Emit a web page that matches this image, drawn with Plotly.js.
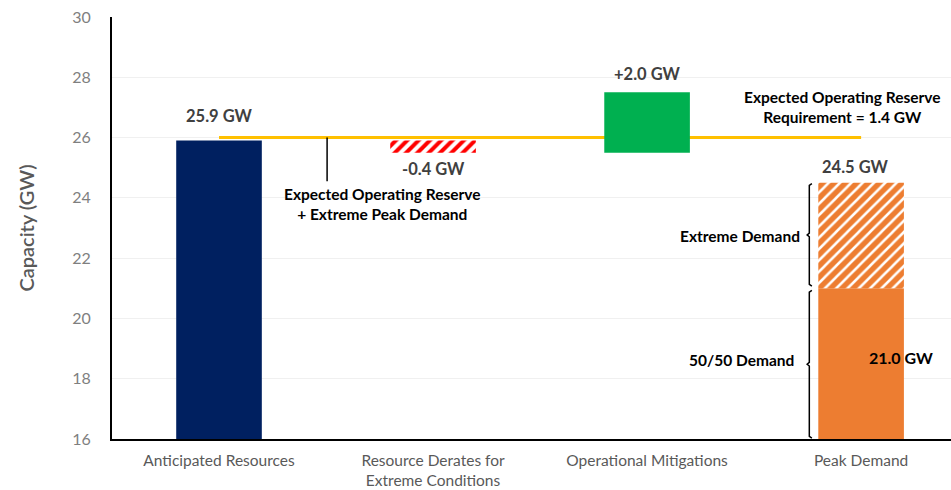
<!DOCTYPE html>
<html>
<head>
<meta charset="utf-8">
<script src="https://cdn.plot.ly/plotly-3.0.1.min.js"></script>
<style>html,body{margin:0;padding:0;background:#fff;}#chart{width:951px;height:490px;}</style>
</head>
<body>
<div id="chart"></div>
<script>
// ---- data ----
const categories = ["Anticipated Resources", "Resource Derates for<br>Extreme Conditions", "Operational Mitigations", "Peak Demand"];
const anticipated = [25.9];
const derate = [-0.4];
const mitigation = [2.0];
const peak5050 = [21.0];
const peakExtreme = [24.5];
const reserveReq = [1.4];
const reserveLineLevel = [26.0];
const yTicks = [16, 18, 20, 22, 24, 26, 28, 30];

const xIdx = categories.map((c, i) => i);
const yMin = 16, yMax = 30;
const barW = 0.4;

const FONT = "Lato, 'Open Sans', sans-serif";
const afterDerate = anticipated[0] + derate[0];

const traces = [
  { type: 'bar', x: [xIdx[0]], y: [anticipated[0] - yMin], base: [yMin], width: barW,
    marker: { color: '#002060' } },
  { type: 'bar', x: [xIdx[1]], y: [derate[0]], base: [anticipated[0]], width: barW,
    marker: { color: '#FF0000', pattern: { shape: '/', fgcolor: '#FF0000', bgcolor: '#FFFFFF', size: 8, solidity: 0.5, fillmode: 'replace' } } },
  { type: 'bar', x: [xIdx[2]], y: [mitigation[0]], base: [afterDerate], width: barW,
    marker: { color: '#00B050' } },
  { type: 'bar', x: [xIdx[3]], y: [peak5050[0] - yMin], base: [yMin], width: barW,
    marker: { color: '#ED7D31' } },
  { type: 'bar', x: [xIdx[3]], y: [peakExtreme[0] - peak5050[0]], base: [peak5050[0]], width: barW,
    marker: { color: '#ED7D31', pattern: { shape: '/', fgcolor: '#FFFFFF', bgcolor: '#ED7D31', size: 8, solidity: 0.32, fillmode: 'replace' } } }
];

// brackets beside the Peak Demand bar
const bx = xIdx[3] - barW / 2 - 0.042;
function bracket(top, bot) {
  const mid = (top + bot) / 2;
  return { type: 'scatter', mode: 'lines', hoverinfo: 'skip',
    x: [bx + 0.012, bx, bx, bx - 0.01, bx, bx, bx + 0.012],
    y: [top, top - 0.06, mid + 0.06, mid, mid - 0.06, bot + 0.06, bot],
    line: { color: '#000000', width: 1.5 } };
}
traces.push(bracket(peakExtreme[0] - 0.03, peak5050[0] + 0.07));
traces.push(bracket(peak5050[0] - 0.07, yMin + 0.03));

// vertical pointer line
const pointerX = 0.505;
traces.push({ type: 'scatter', mode: 'lines', hoverinfo: 'skip',
  x: [pointerX, pointerX], y: [reserveLineLevel[0], 24.55],
  line: { color: '#000000', width: 1.5 } });

const valFont = { family: FONT, size: 16.5, color: '#404040', weight: 'bold' };
const blackFont = { family: FONT, size: 15.5, color: '#000000', weight: 'bold' };
function fmt(v, sign) { return (sign && v > 0 ? '+' : '') + v.toFixed(1) + ' GW'; }

const annotations = [
  { x: xIdx[0], y: anticipated[0], text: fmt(anticipated[0]), yanchor: 'bottom', yshift: 13, font: valFont },
  { x: xIdx[1], y: afterDerate, text: fmt(derate[0]), yanchor: 'top', yshift: -4, font: valFont },
  { x: xIdx[2], y: afterDerate + mitigation[0], text: fmt(mitigation[0], true), yanchor: 'bottom', yshift: 6, font: valFont },
  { x: xIdx[3], y: peakExtreme[0], text: fmt(peakExtreme[0]), yanchor: 'bottom', yshift: 4, xshift: -6, font: valFont },
  { x: xIdx[3], y: (yMin + peak5050[0]) / 2, text: fmt(peak5050[0]), xshift: 40, yshift: 6, font: { family: FONT, size: 16, color: '#000000', weight: 'bold' } },
  { x: bx, y: (peak5050[0] + peakExtreme[0]) / 2, text: 'Extreme Demand', xanchor: 'right', xshift: -7, font: blackFont },
  { x: bx, y: (yMin + peak5050[0]) / 2, text: '50/50 Demand', xanchor: 'right', xshift: -13, yshift: 4, font: blackFont },
  { x: 0.762, y: 23.79, text: 'Expected Operating Reserve<br>+ Extreme Peak Demand', font: blackFont },
  { x: 2.911, y: 27.0, text: 'Expected Operating Reserve<br>Requirement = ' + reserveReq[0].toFixed(1) + ' GW', font: blackFont }
].map(a => Object.assign({ xref: 'x', yref: 'y', showarrow: false }, a));

const layout = {
  width: 951, height: 490,
  margin: { l: 112, r: 0, t: 17, b: 51, pad: 0 },
  paper_bgcolor: '#FFFFFF', plot_bgcolor: '#FFFFFF',
  showlegend: false,
  barmode: 'overlay',
  font: { family: FONT },
  xaxis: {
    type: 'linear', range: [-0.5, 3.42], fixedrange: true,
    tickmode: 'array', tickvals: xIdx, ticktext: categories,
    showgrid: false, zeroline: false,
    showline: true, linecolor: '#000000', linewidth: 2,
    ticks: '', ticklabelstandoff: 6,
    tickfont: { family: FONT, size: 15.5, color: '#595959' }
  },
  yaxis: {
    range: [yMin, yMax], fixedrange: true,
    tickmode: 'array', tickvals: yTicks,
    showgrid: true, gridcolor: '#F0F0F0', gridwidth: 1,
    zeroline: false,
    showline: true, linecolor: '#000000', linewidth: 2,
    ticks: '', ticklabelstandoff: 16,
    tickfont: { family: FONT, size: 16, color: '#7F7F7F' },
    title: { text: 'Capacity (GW)', standoff: 32, font: { family: FONT, size: 20, color: '#595959', weight: 600 } }
  },
  shapes: [
    { type: 'line', layer: 'between', xref: 'x', yref: 'y',
      x0: xIdx[0], x1: xIdx[3], y0: reserveLineLevel[0], y1: reserveLineLevel[0],
      line: { color: '#FFC000', width: 3 } }
  ],
  annotations: annotations
};

Plotly.newPlot('chart', traces, layout, { staticPlot: true, displayModeBar: false });
</script>
</body>
</html>
